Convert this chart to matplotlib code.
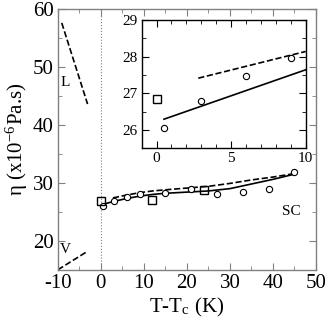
import matplotlib
matplotlib.use('Agg')
import matplotlib.pyplot as plt
from matplotlib.ticker import MultipleLocator

plt.rcParams['font.family'] = ['Liberation Serif', 'DejaVu Serif']
plt.rcParams['mathtext.fontset'] = 'stix'
plt.rcParams['axes.unicode_minus'] = False

# datos principales
t_circ = [0.5, 3, 6, 9, 15, 21, 27, 33, 39, 45]
eta_circ = [26.05, 26.8, 27.5, 28.0, 28.3, 29.0, 28.0, 28.5, 28.9, 31.8]
t_sq = [0, 12, 24]
eta_sq = [26.85, 27.1, 28.7]

t_sol = [0.5, 3, 6, 9, 12, 15, 20, 25, 30, 35, 40, 45]
eta_sol = [26.3, 26.8, 27.3, 27.7, 28.0, 28.2, 28.4, 28.6, 29.0, 29.8, 30.6, 31.5]
t_dash = [2.8, 6, 9, 12, 15, 20, 25, 30, 35, 40, 45]
eta_dash = [27.4, 27.9, 28.3, 28.6, 28.8, 29.1, 29.4, 29.9, 30.5, 31.0, 31.6]

t_liq = [-9.1, -3.1]
eta_liq = [57.6, 43.6]
t_vap = [-10, -3.3]
eta_vap = [15.0, 18.1]

# inset
t_in_circ = [0.5, 3.0, 6.0, 9.0]
eta_in_circ = [26.05, 26.79, 27.47, 27.96]
t_in_sq = [0]
eta_in_sq = [26.83]
t_in_sol = [0.5, 10]
eta_in_sol = [26.29, 27.64]
t_in_dash = [2.8, 10]
eta_in_dash = [27.41, 28.14]

fig = plt.figure(figsize=(3.27, 3.27), dpi=100)
ax = fig.add_axes([0.177, 0.175, 0.789, 0.7975])

ax.axvline(0, color='gray', linestyle=':', linewidth=0.8)
ax.plot(t_sol, eta_sol, color='black', linewidth=1.2)
ax.plot(t_dash, eta_dash, color='black', linewidth=1.2, linestyle='--')
ax.plot(t_liq, eta_liq, color='black', linewidth=1.2, linestyle='--')
ax.plot(t_vap, eta_vap, color='black', linewidth=1.2, linestyle='--')
ax.plot(t_circ, eta_circ, 'o', mfc='white', mec='black', ms=4.5, mew=0.8)
ax.plot(t_sq, eta_sq, 's', mfc='none', mec='black', ms=6, mew=1.0)

ax.text(-8.2, 47.4, 'L', fontsize=11, ha='center', va='center')
ax.text(-8.2, 18.5, 'V', fontsize=11, ha='center', va='center')
ax.text(44.3, 25.1, 'SC', fontsize=11, ha='center', va='center')

ax.set_xlim(-10, 50)
ax.set_ylim(15, 60)
ax.xaxis.set_major_locator(MultipleLocator(10))
ax.xaxis.set_minor_locator(MultipleLocator(5))
ax.yaxis.set_major_locator(MultipleLocator(10))
ax.yaxis.set_minor_locator(MultipleLocator(5))
ax.tick_params(which='both', direction='in', top=True, right=True,
               color='gray', labelsize=15, pad=3)
ax.tick_params(which='major', length=5)
ax.tick_params(which='minor', length=3)
for s in ax.spines.values():
    s.set_color('gray')
    s.set_linewidth(1.0)
ax.set_xlabel('T-T$_\\mathregular{c}$ (K)', fontsize=15, labelpad=2)
ax.set_ylabel('η (x10$^\\mathregular{-6}$Pa.s)', fontsize=15, labelpad=2)

axin = fig.add_axes([0.433, 0.547, 0.502, 0.392])
axin.plot(t_in_sol, eta_in_sol, color='black', linewidth=1.2)
axin.plot(t_in_dash, eta_in_dash, color='black', linewidth=1.2, linestyle='--')
axin.plot(t_in_circ, eta_in_circ, 'o', mfc='white', mec='black', ms=4.5, mew=0.8)
axin.plot(t_in_sq, eta_in_sq, 's', mfc='none', mec='black', ms=6, mew=1.0)
axin.set_xlim(-1, 10)
axin.set_ylim(25.5, 29)
axin.xaxis.set_major_locator(MultipleLocator(5))
axin.xaxis.set_minor_locator(MultipleLocator(1))
axin.yaxis.set_major_locator(MultipleLocator(1))
axin.yaxis.set_minor_locator(MultipleLocator(0.5))
axin.tick_params(which='both', direction='in', top=True, right=True, labelsize=11, pad=3)
axin.tick_params(which='major', length=5)
axin.tick_params(which='minor', length=3)
for s in axin.spines.values():
    s.set_linewidth(1.0)

fig.savefig('out.png', dpi=100)
